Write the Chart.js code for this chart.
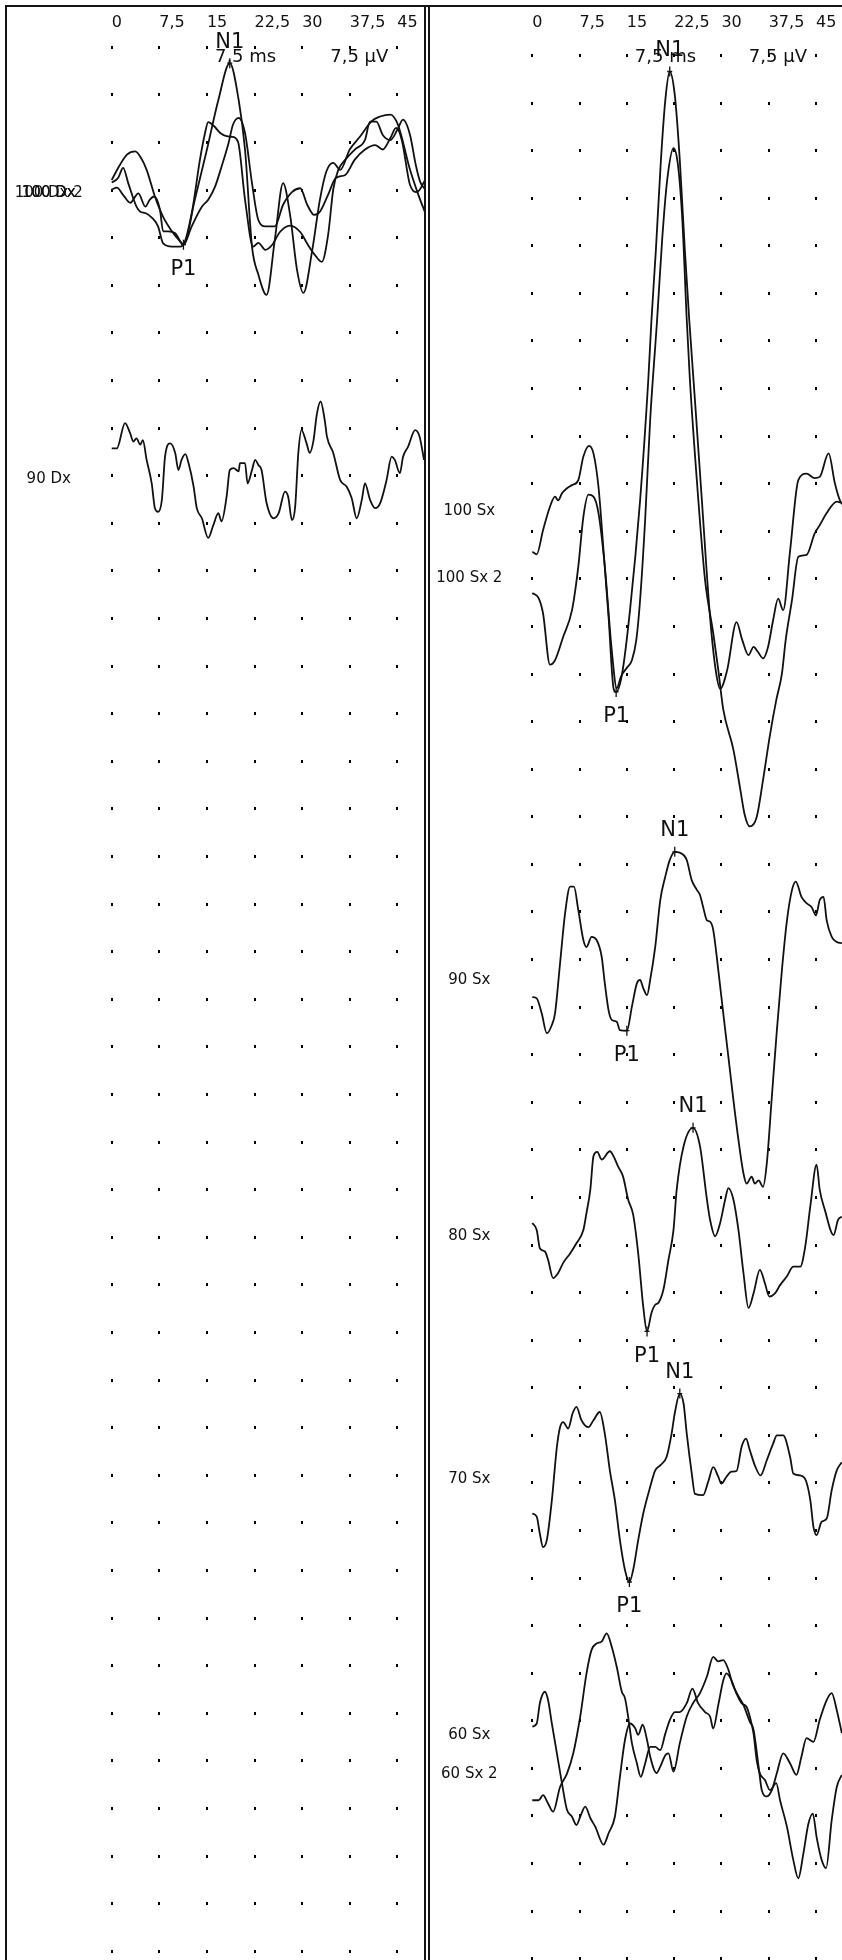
<!DOCTYPE html>
<html>
<head>
<meta charset="utf-8">
<title>VEMP</title>
<script src="https://cdn.jsdelivr.net/npm/chart.js@4.4.1/dist/chart.umd.min.js"></script>
<style>
  html, body { margin: 0; padding: 0; background: #fff; }
  #page { position: relative; width: 842px; height: 1960px; overflow: hidden; }
  canvas { position: absolute; top: 0; }
  #leftChart { left: 7px; }
  #rightChart { left: 430px; }
  .rule { position: absolute; background: #151515; }
</style>
</head>
<body>
<div id="page">
  <canvas id="leftChart" width="417" height="1960"></canvas>
  <canvas id="rightChart" width="412" height="1960"></canvas>
  <div class="rule" style="left:5px;top:5px;width:837px;height:2px"></div>
  <div class="rule" style="left:5px;top:5px;width:2px;height:1955px"></div>
  <div class="rule" style="left:424px;top:5px;width:2px;height:1955px"></div>
  <div class="rule" style="left:428px;top:5px;width:2px;height:1955px"></div>
</div>
<script>
document.addEventListener('DOMContentLoaded', function() {
    const INK = '#111111';
    Chart.defaults.font.family = '"DejaVu Sans", Verdana, sans-serif';

    // time axis (ms) and the 7,5 µV rows of the dot grid
    const timeTicks = [0, 7.5, 15, 22.5, 30, 37.5, 45];
    const gridRows = [];
    for (let k = 0; k <= 40; k++) gridRows.push(-7.5 * k);
    const scaleNotes = ['7,5 ms', '7,5 \u00b5V'];

    // ---- right ear (Dx) traces: time in ms, amplitude in µV above the baseline
    const dx100aTime = [0, 1.3, 2.4, 3.7, 4.6, 5.5, 6.8, 8.1, 9.5, 10.8, 11.3, 13.1, 15.0, 16.8, 18.6, 20.0, 21.0, 22.1, 23.1, 24.4, 25.7, 27.0, 28.1, 29.2, 30.2, 31.6, 32.8, 33.8, 34.9, 36.0, 37.5, 39.1, 41.0, 42.3, 43.9, 45.1, 47.0, 48.3, 49.4];
    const dx100aUv = [2.1, 4.5, 6.1, 6.6, 5.6, 3.7, -0.5, -3.7, -6.0, -7.6, -8.1, -1.0, 6.9, 14.7, 20.5, 14.7, 6.9, -8.4, -12.8, -16.0, -7.3, 1.6, -3.4, -12.1, -15.7, -8.9, -1.0, 3.4, 4.8, 3.7, 6.9, 8.9, 11.4, 12.1, 12.4, 10.8, 3.7, -0.2, -3.1];

    const dx100bTime = [0, 1.0, 1.8, 2.6, 3.9, 4.5, 5.3, 6.4, 7.3, 8.1, 9.5, 10.8, 11.3, 12.7, 13.9, 14.7, 15.2, 16.1, 17.1, 18.1, 19.0, 19.9, 21.0, 22.3, 23.1, 24.2, 25.3, 26.5, 28.1, 29.7, 30.9, 32.0, 33.1, 34.1, 34.9, 35.7, 36.8, 38.3, 39.9, 40.7, 41.7, 42.7, 43.9, 45.0, 45.9, 47.0, 47.9, 48.6, 49.4];
    const dx100bUv = [1.7, 2.4, 4.0, 1.6, -2.1, -2.9, -3.1, -3.9, -5.2, -7.9, -8.4, -8.4, -8.1, -2.6, 5.3, 9.5, 11.2, 10.6, 9.5, 9.0, 8.9, 8.1, -1.0, -8.4, -7.8, -8.9, -8.1, -6.1, -5.1, -6.1, -8.1, -9.7, -10.8, -6.5, 0.6, 3.7, 5.3, 6.9, 8.4, 11.3, 11.3, 9.2, 8.4, 10.0, 11.6, 9.2, 4.5, 1.8, 0.6];

    const dx100cTime = [0, 0.8, 1.9, 2.9, 4.2, 5.3, 6.0, 6.7, 7.6, 8.1, 8.9, 10.0, 11.3, 12.6, 14.2, 15.2, 16.3, 17.3, 18.4, 19.1, 20.0, 21.0, 22.1, 23.1, 24.2, 25.7, 27.0, 28.4, 29.7, 30.8, 31.9, 32.8, 34.1, 35.3, 36.8, 38.3, 39.9, 41.5, 42.7, 43.9, 44.8, 45.7, 47.0, 48.1, 49.4];
    const dx100cUv = [0.6, 0.9, -0.4, -1.5, 0.0, -2.1, -1.0, -0.5, -2.6, -6.0, -6.0, -6.3, -8.1, -5.2, -2.1, -1.0, 1.1, 4.2, 7.9, 10.8, 11.9, 9.5, 1.6, -4.2, -5.2, -5.2, -1.8, 0.2, 0.8, -1.8, -3.4, -2.9, -0.2, 2.4, 2.9, 5.3, 6.9, 7.6, 6.9, 8.7, 10.3, 8.4, 1.3, 0.2, 2.1];

    const dx90Time = [0, 0.8, 2.1, 2.9, 3.4, 3.9, 4.5, 4.9, 5.5, 6.3, 6.8, 7.3, 7.9, 8.4, 9.2, 10.0, 10.5, 11.0, 11.6, 12.1, 12.9, 13.4, 14.2, 15.2, 16.0, 16.8, 17.3, 18.1, 18.6, 19.2, 20.0, 20.2, 21.0, 21.4, 22.1, 22.6, 23.1, 23.6, 24.4, 25.5, 26.3, 27.3, 27.8, 28.4, 28.9, 29.4, 29.9, 30.7, 31.2, 31.8, 32.3, 32.9, 33.6, 33.9, 34.9, 36.0, 37.0, 37.8, 38.6, 39.4, 39.9, 40.7, 41.5, 42.3, 43.3, 44.1, 44.6, 45.4, 45.9, 46.7, 47.8, 48.5, 49.2];
    const dx90Uv = [4.8, 4.8, 8.8, 7.2, 5.9, 6.4, 5.4, 6.1, 3.0, -0.7, -4.6, -5.2, -3.3, 3.5, 5.6, 4.1, 1.4, 3.0, 3.9, 2.5, -1.2, -4.6, -6.2, -9.3, -7.3, -5.4, -6.7, -2.8, 1.4, 1.7, 1.2, 2.5, 2.5, -0.7, 1.4, 3.0, 2.2, 1.4, -3.8, -6.2, -5.4, -2.0, -2.8, -6.5, -4.4, 4.1, 7.7, 5.6, 4.1, 6.1, 10.1, 12.2, 9.0, 6.7, 4.1, -0.2, -1.2, -3.0, -6.2, -3.3, -0.7, -3.3, -4.6, -3.8, -0.2, 3.5, 3.0, 0.9, 3.5, 5.1, 7.7, 6.7, 3.0];

    const dxLabels = ['100 Dx', '100 Dx 2', '100 Dx', '90 Dx'];
    const dxBaselines = [-23.1, -23.1, -23.1, -68.1];
    const dxMarkNames = ['N1', 'P1'];
    const dxMarkTraces = [0, 0];
    const dxMarkTimes = [18.6, 11.3];

    // ---- left ear (Sx) traces
    const sx100aTime = [0, 0.7, 1.7, 2.8, 3.6, 4.1, 4.7, 5.5, 6.3, 7.3, 8.1, 9.0, 9.7, 10.5, 11.3, 12.1, 12.9, 13.3, 14.2, 15.5, 17.1, 18.4, 18.9, 19.6, 20.4, 21.1, 21.8, 22.6, 23.4, 24.2, 24.9, 25.8, 26.9, 28.2, 29.1, 29.8, 30.9, 32.4, 33.3, 34.3, 35.1, 35.8, 36.6, 37.4, 38.2, 39.0, 39.8, 40.9, 42.2, 43.5, 44.8, 45.6, 47.0, 48.0, 48.8, 49.3];
    const sx100aUv = [-6.4, -6.8, -3.0, 0.7, 2.3, 1.7, 2.8, 3.6, 4.1, 4.9, 8.6, 10.3, 9.1, 3.8, -6.2, -16.7, -28.0, -28.5, -25.9, -15.6, 1.7, 20.7, 30.1, 41.1, 55.3, 64.8, 69.3, 65.6, 55.3, 41.1, 30.1, 17.5, 1.7, -16.7, -25.1, -28.0, -25.1, -17.5, -20.3, -22.7, -21.4, -22.2, -23.2, -21.4, -17.2, -13.8, -15.6, -6.2, 4.9, 5.9, 5.2, 5.4, 9.1, 4.4, 1.7, 1.0];

    const sx100bTime = [0, 1.0, 1.7, 2.8, 3.6, 4.9, 6.3, 7.3, 8.1, 8.9, 9.7, 10.5, 11.5, 12.6, 13.4, 14.1, 15.0, 15.8, 16.5, 17.1, 17.9, 18.7, 19.8, 20.6, 21.4, 22.4, 23.1, 23.8, 24.5, 25.0, 26.1, 27.4, 28.7, 29.5, 30.3, 31.9, 33.0, 33.7, 34.5, 35.6, 36.6, 37.7, 38.7, 39.6, 40.2, 41.2, 42.2, 43.5, 44.8, 45.6, 46.7, 48.3, 49.1];
    const sx100bUv = [-2.3, -3.1, -5.5, -13.6, -12.9, -9.2, -5.0, 1.9, 9.7, 13.2, 12.9, 10.3, 1.9, -11.3, -17.3, -15.4, -14.1, -12.9, -9.7, -3.4, 9.2, 25.0, 40.8, 53.4, 62.8, 67.8, 65.2, 56.5, 40.8, 31.3, 15.5, -0.2, -8.6, -14.4, -20.7, -27.0, -33.3, -37.3, -39.1, -37.6, -31.8, -24.7, -19.2, -15.0, -9.7, -3.4, 3.4, 3.7, 7.1, 8.4, 10.3, 12.1, 11.9];

    const sx90Time = [0, 0.7, 1.5, 2.3, 3.1, 3.6, 4.4, 5.2, 6.0, 6.6, 7.3, 8.1, 8.6, 9.4, 10.2, 11.0, 11.5, 12.1, 12.6, 13.4, 13.9, 15.0, 15.8, 16.6, 17.1, 17.6, 18.2, 18.7, 19.5, 20.3, 21.1, 21.8, 22.6, 24.0, 24.5, 25.3, 26.1, 26.6, 27.1, 27.7, 28.2, 28.7, 29.5, 30.3, 31.1, 31.9, 32.7, 33.5, 34.0, 34.8, 35.3, 35.9, 36.6, 37.2, 38.0, 38.8, 39.6, 40.4, 41.2, 41.8, 42.7, 43.5, 44.3, 45.0, 45.6, 46.2, 46.7, 47.5, 48.3, 49.1];
    const sx90Uv = [-2.6, -2.8, -5.2, -8.3, -7.0, -5.2, 2.7, 10.6, 14.8, 14.8, 11.1, 6.4, 5.3, 6.9, 6.4, 3.8, -0.4, -4.7, -6.2, -6.5, -7.8, -7.9, -4.1, -0.4, 0.1, -1.2, -2.3, 0.1, 5.3, 12.7, 16.4, 19.0, 20.3, 19.8, 19.0, 15.8, 14.3, 13.5, 11.6, 9.5, 9.3, 8.0, 1.7, -5.2, -12.0, -18.8, -25.1, -30.4, -32.0, -30.9, -32.0, -31.5, -32.5, -28.8, -18.3, -7.8, 1.7, 9.5, 14.3, 15.6, 13.2, 12.2, 11.6, 10.3, 12.7, 13.2, 9.5, 6.9, 6.1, 5.9];

    const sx80Time = [0, 0.7, 1.2, 2.0, 2.5, 3.3, 4.1, 4.9, 6.0, 7.0, 8.1, 8.6, 9.2, 9.7, 10.3, 11.0, 12.3, 13.0, 13.6, 14.4, 15.2, 16.0, 16.8, 17.6, 18.2, 18.9, 19.5, 20.0, 20.8, 21.6, 22.4, 22.9, 24.0, 25.5, 26.6, 27.7, 28.2, 29.0, 29.8, 30.6, 31.1, 31.9, 32.7, 33.5, 34.3, 35.1, 36.1, 36.9, 37.6, 38.5, 39.3, 40.4, 41.4, 42.5, 43.3, 44.1, 45.1, 45.6, 46.4, 47.8, 48.5, 49.1];
    const sx80Uv = [2.1, 1.0, -1.9, -2.4, -3.7, -6.6, -5.8, -4.2, -2.7, -1.1, 1.0, 3.7, 7.3, 12.6, 13.3, 12.1, 13.4, 12.4, 11.0, 9.4, 5.8, 3.4, -2.7, -11.1, -15.0, -12.1, -10.8, -10.5, -8.4, -3.7, 1.0, 7.3, 14.2, 17.1, 14.2, 5.8, 2.6, 0.0, 2.1, 5.8, 7.6, 5.8, 1.0, -5.8, -11.3, -9.0, -5.3, -7.4, -9.5, -9.0, -7.7, -6.3, -4.8, -4.8, -1.6, 4.7, 11.3, 7.3, 4.2, 0.2, 2.6, 3.1];

    const sx70Time = [0, 0.7, 1.2, 1.7, 2.3, 3.1, 3.9, 4.4, 4.9, 5.7, 6.4, 7.0, 7.8, 8.9, 9.7, 10.7, 11.5, 12.3, 13.1, 13.9, 14.7, 15.4, 16.0, 16.8, 17.6, 18.7, 19.5, 20.3, 21.3, 22.1, 22.6, 23.4, 24.0, 24.5, 25.3, 25.8, 27.1, 27.9, 28.7, 29.5, 30.0, 30.8, 31.6, 32.4, 33.2, 33.9, 34.5, 35.3, 36.2, 37.2, 38.2, 38.8, 39.8, 40.9, 41.4, 42.5, 43.4, 44.1, 44.6, 45.1, 45.9, 46.7, 47.5, 48.3, 49.1];
    const sx70Uv = [-5.4, -5.9, -8.6, -10.7, -9.6, -3.3, 5.1, 8.2, 9.0, 8.0, 10.4, 11.4, 9.3, 8.2, 9.3, 10.6, 7.2, 1.4, -3.3, -9.6, -14.3, -16.2, -14.3, -9.6, -5.4, -1.2, 1.4, 2.2, 3.5, 7.2, 10.4, 13.5, 11.9, 7.2, 0.9, -2.3, -2.5, -0.4, 1.9, 0.4, -0.7, 0.4, 1.2, 1.3, 5.1, 6.4, 4.6, 2.2, 0.6, 3.0, 5.6, 6.9, 6.9, 3.5, 0.9, 0.6, -0.2, -3.3, -7.5, -8.8, -6.7, -6.2, -1.7, 1.4, 2.7];

    const sx60aTime = [0, 0.7, 1.2, 2.0, 2.5, 3.1, 3.9, 4.7, 5.5, 6.3, 7.0, 7.6, 8.4, 9.2, 10.0, 11.3, 12.1, 13.1, 13.9, 14.7, 15.5, 16.3, 16.8, 17.5, 18.2, 18.7, 19.7, 20.3, 21.1, 21.6, 22.4, 23.4, 24.5, 25.5, 26.6, 27.7, 28.7, 29.5, 30.3, 31.1, 31.8, 32.6, 33.5, 34.5, 35.1, 35.9, 36.4, 37.2, 38.0, 38.8, 39.8, 40.9, 41.9, 42.7, 43.5, 44.6, 45.6, 46.7, 47.5, 48.3, 49.1];
    const sx60aUv = [1.3, 1.8, 5.0, 6.8, 5.5, 1.8, -2.9, -7.6, -11.8, -12.9, -14.2, -12.9, -11.3, -13.1, -14.5, -17.3, -15.5, -12.9, -6.6, -0.8, 1.8, 1.1, 0.0, 1.6, -0.8, -3.4, -6.0, -5.0, -3.2, -2.9, -5.8, -1.3, 2.9, 5.0, 6.6, 9.2, 12.3, 11.6, 11.8, 10.3, 7.9, 6.3, 4.7, 2.1, 0.8, -5.0, -8.7, -9.7, -8.7, -6.0, -2.9, -4.5, -6.3, -3.4, -0.5, -1.1, 2.4, 5.5, 6.6, 3.9, 0.3];

    const sx60bTime = [0, 1.0, 1.7, 2.5, 3.3, 4.4, 5.5, 6.5, 7.6, 8.6, 9.4, 10.2, 11.0, 11.8, 12.6, 13.4, 14.2, 14.7, 15.2, 15.8, 16.6, 17.2, 17.9, 18.7, 19.5, 20.3, 21.1, 21.8, 22.6, 23.4, 24.5, 25.4, 26.3, 27.4, 28.2, 28.7, 29.5, 30.3, 30.8, 31.6, 32.4, 33.2, 34.0, 34.5, 35.1, 35.6, 36.1, 36.9, 37.7, 38.7, 39.3, 40.4, 41.4, 42.2, 43.0, 43.8, 44.5, 45.1, 45.9, 46.6, 47.5, 48.3, 49.1];
    const sx60bUv = [-4.2, -4.2, -3.4, -4.7, -6.0, -2.1, 0.0, 3.2, 9.0, 15.8, 19.5, 20.5, 20.8, 22.1, 20.0, 16.8, 12.9, 11.9, 9.0, 4.8, 1.6, -0.5, 1.6, 4.2, 4.2, 3.7, 6.3, 8.4, 9.7, 9.7, 11.1, 13.4, 11.1, 9.7, 9.0, 7.1, 10.8, 14.7, 15.8, 14.7, 12.6, 11.1, 10.5, 9.0, 6.3, 2.1, 0.0, -1.0, -2.6, -1.5, -4.2, -8.4, -13.6, -16.5, -12.6, -7.9, -6.3, -10.0, -13.6, -14.9, -7.3, -2.1, -0.2];

    const sxLabels = ['100 Sx', '100 Sx 2', '90 Sx', '80 Sx', '70 Sx', '60 Sx', '60 Sx 2'];
    const sxBaselines = [-71.9, -82.5, -145.9, -186.2, -224.5, -264.8, -270.9];
    const sxMarkNames = ['N1', 'P1', 'N1', 'P1', 'N1', 'P1', 'N1', 'P1'];
    const sxMarkTraces = [0, 0, 2, 2, 3, 3, 4, 4];
    const sxMarkTimes = [21.8, 13.3, 22.6, 15.0, 25.5, 18.2, 23.4, 15.4];

    // Draws the dot grid, trace names, N1/P1 marks and the scale notes
    function paperPlugin(p) {
        return {
            id: 'paper',
            beforeDatasetsDraw(chart) {
                const { ctx, scales: { x, y } } = chart;
                ctx.save();
                ctx.fillStyle = '#000';
                timeTicks.forEach(t => {
                    const px = Math.round(x.getPixelForValue(t));
                    gridRows.forEach(r => {
                        const py = Math.round(y.getPixelForValue(r));
                        ctx.fillRect(px - 1, py - 1, 2, 3);
                    });
                });
                ctx.restore();
            },
            afterDatasetsDraw(chart) {
                const { ctx, chartArea, scales: { x, y } } = chart;
                ctx.save();
                ctx.fillStyle = INK;
                ctx.strokeStyle = INK;
                ctx.lineWidth = 1.3;

                // trace names in the left column
                ctx.font = '15px "DejaVu Sans"';
                ctx.textAlign = 'center';
                ctx.textBaseline = 'middle';
                p.labels.forEach((lab, i) => {
                    ctx.fillText(lab, x.getPixelForValue(0) - 63, y.getPixelForValue(p.baselines[i]));
                });

                // peak markers
                ctx.font = '21px "DejaVu Sans"';
                p.markNames.forEach((name, m) => {
                    const ti = p.markTraces[m];
                    const times = p.times[ti];
                    let j = 0;
                    times.forEach((v, k) => {
                        if (Math.abs(v - p.markTimes[m]) < Math.abs(times[j] - p.markTimes[m])) j = k;
                    });
                    const px = x.getPixelForValue(times[j]);
                    const py = y.getPixelForValue(p.baselines[ti] + p.values[ti][j]);
                    ctx.beginPath();
                    ctx.moveTo(px, py - 5); ctx.lineTo(px, py + 5);
                    ctx.moveTo(px - 2.5, py); ctx.lineTo(px + 2.5, py);
                    ctx.stroke();
                    const up = name.charAt(0) === 'N';
                    ctx.fillText(name, px, up ? py - 21 : py + 25);
                });

                // sweep / sensitivity notes
                ctx.font = '18px "DejaVu Sans"';
                ctx.textAlign = 'left';
                ctx.fillText(scaleNotes[0], x.getPixelForValue(timeTicks[2]) + 8, chartArea.top + 23.5);
                ctx.textAlign = 'right';
                ctx.fillText(scaleNotes[1], x.getPixelForValue(timeTicks[6]) - 9, chartArea.top + 23.5);
                ctx.restore();
            }
        };
    }

    function makePanel(canvasId, p) {
        const datasets = p.times.map((times, i) => ({
            label: p.labels[i],
            data: times.map((t, j) => ({ x: t, y: p.baselines[i] + p.values[i][j] })),
            borderColor: INK,
            borderWidth: 1.8,
            pointRadius: 0,
            fill: false,
            cubicInterpolationMode: 'monotone'
        }));

        return new Chart(document.getElementById(canvasId), {
            type: 'line',
            data: { datasets: datasets },
            options: {
                responsive: false,
                animation: false,
                devicePixelRatio: 1,
                layout: { padding: 0, autoPadding: false },
                plugins: {
                    legend: { display: false },
                    tooltip: { enabled: false }
                },
                scales: {
                    x: {
                        type: 'linear',
                        position: 'top',
                        min: p.xMin,
                        max: p.xMax,
                        afterBuildTicks: scale => { scale.ticks = timeTicks.map(v => ({ value: v })); },
                        afterFit: scale => { scale.height = 34; },
                        grid: { display: false, drawTicks: false },
                        border: { display: false },
                        ticks: {
                            align: 'start',
                            autoSkip: false,
                            maxRotation: 0,
                            padding: 2,
                            color: INK,
                            font: { size: 16 },
                            callback: v => String(v).replace('.', ',')
                        }
                    },
                    y: { type: 'linear', display: false, min: p.yMin, max: p.yMax }
                }
            },
            plugins: [paperPlugin(p)]
        });
    }

    makePanel('leftChart', {
        times: [dx100aTime, dx100bTime, dx100cTime, dx90Time],
        values: [dx100aUv, dx100bUv, dx100cUv, dx90Uv],
        labels: dxLabels,
        baselines: dxBaselines,
        markNames: dxMarkNames,
        markTraces: dxMarkTraces,
        markTimes: dxMarkTimes,
        xMin: -16.5, xMax: 49.2, yMin: -301.45, yMax: 2.0
    });

    makePanel('rightChart', {
        times: [sx100aTime, sx100bTime, sx90Time, sx80Time, sx70Time, sx60aTime, sx60bTime],
        values: [sx100aUv, sx100bUv, sx90Uv, sx80Uv, sx70Uv, sx60aUv, sx60bUv],
        labels: sxLabels,
        baselines: sxBaselines,
        markNames: sxMarkNames,
        markTraces: sxMarkTraces,
        markTimes: sxMarkTimes,
        xMin: -16.23, xMax: 49.13, yMin: -300.28, yMax: 3.31
    });
});
</script>
</body>
</html>
